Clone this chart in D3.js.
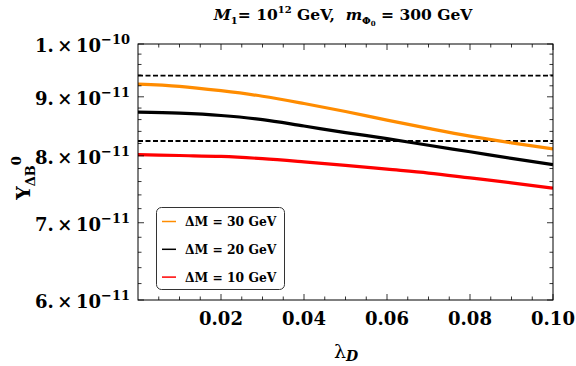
<!DOCTYPE html>
<html>
<head>
<meta charset="utf-8">
<script src="https://cdn.jsdelivr.net/npm/d3@7"></script>
<style>
html,body{margin:0;padding:0;background:#fff;}
svg text{font-family:"DejaVu Serif",serif;white-space:pre;}
</style>
</head>
<body>
<svg id="chart" width="576" height="366"></svg>
<script>
// ---- data ----
const lambdaD = [0, 0.01, 0.02, 0.03, 0.04, 0.05, 0.06, 0.07, 0.08, 0.09, 0.10];
const yDM30 = [9.23e-11, 9.19e-11, 9.11e-11, 9.01e-11, 8.88e-11, 8.74e-11, 8.59e-11, 8.45e-11, 8.32e-11, 8.21e-11, 8.11e-11];
const yDM20 = [8.73e-11, 8.71e-11, 8.67e-11, 8.60e-11, 8.49e-11, 8.38e-11, 8.28e-11, 8.17e-11, 8.065e-11, 7.96e-11, 7.86e-11];
const yDM10 = [8.02e-11, 8.005e-11, 7.99e-11, 7.955e-11, 7.905e-11, 7.85e-11, 7.79e-11, 7.73e-11, 7.655e-11, 7.58e-11, 7.50e-11];
const obsBand = [8.24e-11, 9.39e-11];
const seriesNames = ["\u0394M = 30 GeV", "\u0394M = 20 GeV", "\u0394M = 10 GeV"];
const seriesColors = ["#ff8c00", "#000000", "#ff0000"];
const xTickValues = [0.02, 0.04, 0.06, 0.08, 0.10];
const xTickLabels = ["0.02", "0.04", "0.06", "0.08", "0.10"];
const yTickValues = [1e-10, 9e-11, 8e-11, 7e-11, 6e-11];
const yTickMant = ["1.", "9.", "8.", "7.", "6."];
const yTickExp = ["\u221210", "\u221211", "\u221211", "\u221211", "\u221211"];

// ---- layout ----
const L = 138, R = 553, T = 44, B = 300;
const svg = d3.select("#chart");
const x = d3.scaleLinear().domain([0, 0.1]).range([L, R]);
const y = d3.scaleLog().domain([6e-11, 1e-10]).range([B, T]);

// clip
svg.append("clipPath").attr("id", "clip").append("rect")
  .attr("x", L).attr("y", T).attr("width", R - L).attr("height", B - T);

const g = svg.append("g").attr("clip-path", "url(#clip)");

// dashed observed band lines
obsBand.forEach(v => {
  g.append("line").attr("x1", L).attr("x2", R).attr("y1", y(v)).attr("y2", y(v))
    .attr("stroke", "#000").attr("stroke-width", 1.8).attr("stroke-dasharray", "5,2.5");
});

const line = d3.line().x((d, i) => x(lambdaD[i])).y(d => y(d)).curve(d3.curveMonotoneX);
[yDM30, yDM20, yDM10].forEach((s, k) => {
  g.append("path").datum(s).attr("d", line).attr("fill", "none")
    .attr("stroke", seriesColors[k]).attr("stroke-width", 3.2).attr("stroke-linejoin", "round");
});

// frame
svg.append("rect").attr("x", L).attr("y", T).attr("width", R - L).attr("height", B - T)
  .attr("fill", "none").attr("stroke", "#000").attr("stroke-width", 1);

// ticks
const tk = svg.append("g").attr("stroke", "#000").attr("stroke-width", 0.8);
const xMinor = d3.range(0.005, 0.1, 0.005).filter(v => !xTickValues.some(t => Math.abs(t - v) < 1e-9));
xMinor.forEach(v => {
  tk.append("line").attr("x1", x(v)).attr("x2", x(v)).attr("y1", B).attr("y2", B - 3.5);
  tk.append("line").attr("x1", x(v)).attr("x2", x(v)).attr("y1", T).attr("y2", T + 3.5);
});
xTickValues.forEach(v => {
  tk.append("line").attr("x1", x(v)).attr("x2", x(v)).attr("y1", B).attr("y2", B - 6);
  tk.append("line").attr("x1", x(v)).attr("x2", x(v)).attr("y1", T).attr("y2", T + 6);
});
const yMinor = d3.range(6.2e-11, 1e-10, 2e-12).filter(v => !yTickValues.some(t => Math.abs(t - v) < 1e-14));
yMinor.forEach(v => {
  tk.append("line").attr("x1", L).attr("x2", L + 3.5).attr("y1", y(v)).attr("y2", y(v));
  tk.append("line").attr("x1", R).attr("x2", R - 3.5).attr("y1", y(v)).attr("y2", y(v));
});
yTickValues.forEach(v => {
  tk.append("line").attr("x1", L).attr("x2", L + 6).attr("y1", y(v)).attr("y2", y(v));
  tk.append("line").attr("x1", R).attr("x2", R - 6).attr("y1", y(v)).attr("y2", y(v));
});

// x tick labels
xTickValues.forEach((v, i) => {
  svg.append("text").attr("x", x(v)).attr("y", 325).attr("text-anchor", "middle")
    .attr("font-size", 18).attr("font-weight", "bold").text(xTickLabels[i]);
});
// y tick labels
yTickValues.forEach((v, i) => {
  const t = svg.append("text").attr("x", 130).attr("y", y(v) + 8).attr("text-anchor", "end")
    .attr("font-size", 18).attr("font-weight", "bold");
  t.append("tspan").text(yTickMant[i] + "\u2009\u00d7\u200910");
  t.append("tspan").attr("dy", -8).attr("font-size", 13).text(yTickExp[i]);
});

// title
const title = svg.append("text").attr("x", 343).attr("y", 20).attr("text-anchor", "middle")
  .attr("font-size", 15.5).attr("font-weight", "bold");
title.append("tspan").attr("font-style", "italic").text("M");
title.append("tspan").attr("font-size", 10).attr("dy", 4).text("1");
title.append("tspan").attr("dy", -4).text("= 10");
title.append("tspan").attr("font-size", 10).attr("dy", -7).text("12");
title.append("tspan").attr("dy", 7).text(" GeV,  ");
title.append("tspan").attr("font-style", "italic").text("m");
title.append("tspan").attr("font-size", 10).attr("dy", 4).text("\u03a6");
title.append("tspan").attr("font-size", 7).attr("dy", 2).text("0");
title.append("tspan").attr("dy", -6).text(" = 300 GeV");

// x label
const xl = svg.append("text").attr("x", 346).attr("y", 358).attr("text-anchor", "middle").attr("font-size", 19);
xl.append("tspan").text("\u03bb");
xl.append("tspan").attr("font-size", 14).attr("dy", 3).attr("font-weight", "bold").attr("font-style", "italic").text("D");

// y label
const yl = svg.append("text").attr("transform", "translate(30,178) rotate(-90)").attr("text-anchor", "middle")
  .attr("font-size", 19).attr("font-weight", "bold");
yl.append("tspan").text("Y");
yl.append("tspan").attr("font-size", 13).attr("dy", 5).text("\u0394B");
yl.append("tspan").attr("font-size", 13).attr("dy", -14).text("0");

// legend
const lg = svg.append("g");
lg.append("rect").attr("x", 156.5).attr("y", 207.5).attr("width", 128).attr("height", 82).attr("rx", 5)
  .attr("fill", "#fff").attr("stroke", "#333").attr("stroke-width", 1);
seriesNames.forEach((n, i) => {
  const yy = 221.5 + i * 27.8;
  lg.append("line").attr("x1", 162).attr("x2", 176).attr("y1", yy).attr("y2", yy)
    .attr("stroke", seriesColors[i]).attr("stroke-width", 1.5);
  lg.append("text").attr("x", 185).attr("y", yy + 4.5).attr("font-size", 12.3).attr("font-weight", "bold").text(n);
});
</script>
</body>
</html>
